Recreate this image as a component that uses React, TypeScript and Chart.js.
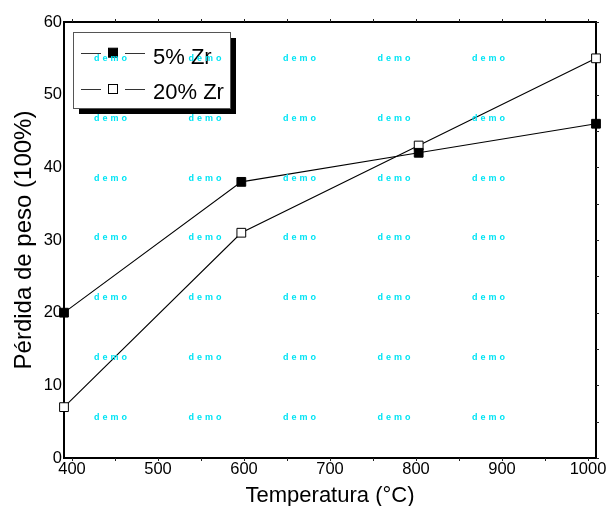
import React, { useEffect, useRef } from 'react';
import { Chart, registerables } from 'chart.js';

Chart.register(...registerables);

const TEMPS = [400, 600, 800, 1000];
const ZR5 = [20, 38, 42, 46];
const ZR20 = [7, 31, 43, 55];
const X_TICKS = [400, 500, 600, 700, 800, 900, 1000];
const Y_TICKS = [0, 10, 20, 30, 40, 50, 60];
const SERIES_LABELS = ['5% Zr', '20% Zr'];
const X_TITLE = 'Temperatura (°C)';
const Y_TITLE = 'Pérdida de peso (100%)';
const WATERMARK = 'demo';

const FONT = '"Liberation Sans", Arial, Helvetica, sans-serif';

const framePlugin = {
  id: 'frame',
  beforeDatasetsDraw(chart: any) {
    const { ctx, chartArea: a, scales } = chart;
    ctx.save();
    ctx.strokeStyle = '#000';
    ctx.lineWidth = 2;
    ctx.strokeRect(a.left, a.top, a.right - a.left, a.bottom - a.top);
    ctx.lineWidth = 1;
    ctx.strokeStyle = '#222';
    const xs = scales.xl;
    ctx.beginPath();
    for (let v = X_TICKS[0]; v <= X_TICKS[X_TICKS.length - 1]; v += 50) {
      const px = Math.round(xs.getPixelForValue(v)) + 0.5;
      ctx.moveTo(px, a.top);
      ctx.lineTo(px, a.top - 3);
      ctx.moveTo(px, a.bottom);
      ctx.lineTo(px, a.bottom + 3);
    }
    const ys = scales.y;
    for (let v = Y_TICKS[0]; v <= Y_TICKS[Y_TICKS.length - 1]; v += 5) {
      const py = Math.round(ys.getPixelForValue(v)) + 0.5;
      ctx.moveTo(a.right, py);
      ctx.lineTo(a.right + 3, py);
    }
    ctx.stroke();
    ctx.restore();
  },
};

const legendPlugin = {
  id: 'boxLegend',
  afterDraw(chart: any) {
    const { ctx, chartArea: a } = chart;
    const bx = a.left + 9;
    const by = a.top + 10;
    const bw = 157;
    const bh = 76;
    ctx.save();
    ctx.fillStyle = '#000';
    ctx.fillRect(bx + 6, by + 6, bw, bh);
    ctx.fillStyle = '#fff';
    ctx.fillRect(bx, by, bw, bh);
    ctx.strokeStyle = '#555';
    ctx.lineWidth = 1;
    ctx.strokeRect(bx + 0.5, by + 0.5, bw, bh);
    const rows = [20.7, 57];
    const baselines = [31.5, 67];
    chart.data.datasets.forEach((ds: any, i: number) => {
      const cy = by + rows[i];
      const mx = bx + 40;
      ctx.strokeStyle = '#333';
      ctx.lineWidth = 1;
      ctx.beginPath();
      ctx.moveTo(bx + 8, Math.round(cy) + 0.5);
      ctx.lineTo(bx + 28, Math.round(cy) + 0.5);
      ctx.moveTo(bx + 52, Math.round(cy) + 0.5);
      ctx.lineTo(bx + 72, Math.round(cy) + 0.5);
      ctx.stroke();
      ctx.fillStyle = ds.pointBackgroundColor;
      ctx.fillRect(mx - 4.5, cy - 4.5, 9, 9);
      ctx.strokeStyle = '#000';
      ctx.strokeRect(mx - 4.5, cy - 4.5, 9, 9);
      ctx.fillStyle = '#000';
      ctx.font = `22px ${FONT}`;
      ctx.textAlign = 'left';
      ctx.textBaseline = 'alphabetic';
      ctx.fillText(ds.label, bx + 80, by + baselines[i]);
    });
    ctx.restore();
  },
};

const watermarkPlugin = {
  id: 'watermark',
  afterDraw(chart: any) {
    const { ctx } = chart;
    ctx.save();
    ctx.fillStyle = '#00e4f4';
    ctx.font = `bold 9px ${FONT}`;
    (ctx as any).letterSpacing = '3px';
    ctx.textAlign = 'left';
    ctx.textBaseline = 'middle';
    for (let i = 0; i < 5; i++) {
      for (let j = 0; j < 7; j++) {
        ctx.fillText(WATERMARK, 94 + i * 94.5, 58.5 + j * 59.8);
      }
    }
    ctx.restore();
  },
};

export default function App() {
  const ref = useRef<HTMLCanvasElement | null>(null);
  useEffect(() => {
    if (!ref.current) return;
    const chart = new Chart(ref.current, {
      type: 'line',
      data: {
        datasets: [
          {
            label: SERIES_LABELS[0],
            data: TEMPS.map((t, i) => ({ x: t, y: ZR5[i] })),
            borderColor: '#000',
            borderWidth: 1.1,
            pointStyle: 'rect',
            pointRadius: 6.2,
            pointBackgroundColor: '#000',
            pointBorderColor: '#000',
            pointBorderWidth: 1,
            clip: false as any,
          },
          {
            label: SERIES_LABELS[1],
            data: TEMPS.map((t, i) => ({ x: t, y: ZR20[i] })),
            borderColor: '#000',
            borderWidth: 1.1,
            pointStyle: 'rect',
            pointRadius: 6.2,
            pointBackgroundColor: '#fff',
            pointBorderColor: '#000',
            pointBorderWidth: 1,
            clip: false as any,
          },
        ],
      },
      options: {
        responsive: false,
        animation: false,
        devicePixelRatio: 1,
        layout: { padding: { top: 22, right: 11, left: 0, bottom: 0 } },
        plugins: { legend: { display: false }, tooltip: { enabled: false } },
        scales: {
          x: {
            type: 'linear',
            min: X_TICKS[0],
            max: X_TICKS[X_TICKS.length - 1],
            display: false,
          },
          xl: {
            type: 'linear',
            position: 'bottom',
            min: 390.7,
            max: 1009.3,
            afterBuildTicks: (s: any) => {
              s.ticks = X_TICKS.map((v) => ({ value: v }));
            },
            afterFit: (s: any) => {
              s.height = 48;
              s.paddingLeft = 0;
              s.paddingRight = 0;
            },
            grid: { display: false, drawTicks: false },
            border: { display: false },
            ticks: {
              color: '#000',
              font: { family: FONT, size: 16.5 },
              padding: 2,
              maxRotation: 0,
              autoSkip: false,
              callback: (v: any) => String(v),
            },
            title: {
              display: true,
              text: X_TITLE,
              color: '#000',
              font: { family: FONT, size: 22, lineHeight: 0.88 },
              padding: 0,
            },
          },
          y: {
            type: 'linear',
            min: Y_TICKS[0],
            max: Y_TICKS[Y_TICKS.length - 1],
            afterBuildTicks: (s: any) => {
              s.ticks = Y_TICKS.map((v) => ({ value: v }));
            },
            afterFit: (s: any) => {
              s.width = 64;
              s.paddingTop = 0;
              s.paddingBottom = 0;
            },
            grid: { display: false, drawTicks: false },
            border: { display: false },
            ticks: {
              color: '#000',
              font: { family: FONT, size: 16.5 },
              padding: 2,
              autoSkip: false,
              callback: (v: any) => String(v),
            },
            title: {
              display: true,
              text: Y_TITLE,
              color: '#000',
              font: { family: FONT, size: 24, lineHeight: 1 },
              padding: { top: 12.5, bottom: 0 },
            },
          },
        },
      },
      plugins: [framePlugin, legendPlugin, watermarkPlugin],
    } as any);
    return () => chart.destroy();
  }, []);
  return (
    <div style={{ position: 'fixed', left: 0, top: 0, width: 607, height: 506, background: '#fff' }}>
      <canvas ref={ref} width={607} height={506} style={{ width: 607, height: 506, display: 'block' }} />
    </div>
  );
}
